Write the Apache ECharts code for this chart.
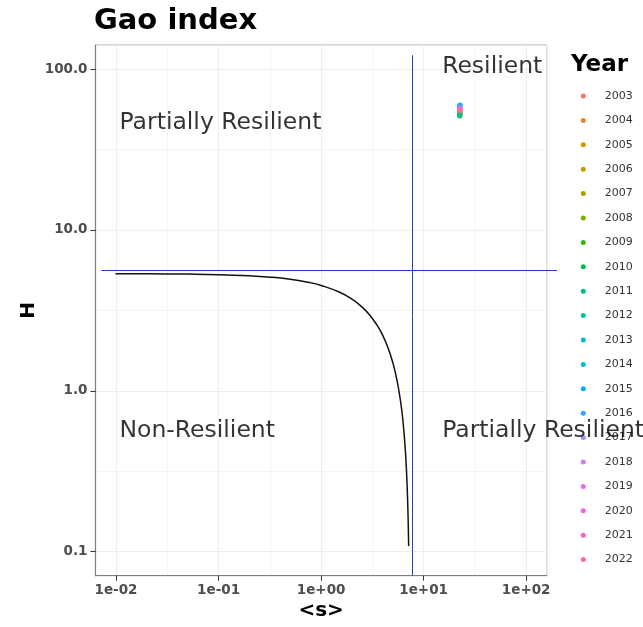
<!DOCTYPE html>
<html>
<head>
<meta charset="utf-8">
<script src="https://cdn.jsdelivr.net/npm/echarts@6/dist/echarts.min.js"></script>
<style>
  html, body { margin: 0; padding: 0; background: #ffffff; }
  #chart { width: 643px; height: 627px; }
</style>
</head>
<body>
<div id="chart"></div>
<script>
// Yearly observations of the Gao resilience index
const years = ['2003','2004','2005','2006','2007','2008','2009','2010','2011','2012',
               '2013','2014','2015','2016','2017','2018','2019','2020','2021','2022'];
const yearColors = ['#F8766D','#EA8331','#D89000','#C09B00','#A3A500','#7CAE00','#39B600','#00BB4E','#00BF7D','#00C1A3',
                    '#00BFC4','#00BAE0','#00B0F6','#35A2FF','#9590FF','#C77CFF','#E76BF3','#FA62DB','#FF62BC','#FF6C91'];
const meanDegree = [22.6, 22.6, 22.6, 22.6, 22.6, 22.5, 22.5, 22.5, 22.5, 22.5,
                    22.4, 22.5, 22.7, 22.7, 22.6, 22.6, 22.6, 22.6, 22.6, 22.6];
const heterogeneity = [55.0, 54.2, 53.5, 53.0, 52.5, 52.0, 51.5, 51.2, 51.8, 53.8,
                       58.5, 59.3, 59.8, 59.0, 57.5, 57.0, 56.5, 56.0, 55.6, 55.3];

// Critical boundary of the resilience function
const boundaryS = [0.01, 0.02, 0.05, 0.1, 0.2, 0.3, 0.5, 0.75, 1.0, 1.5, 2.0, 2.5, 3.0, 3.5,
                   4.0, 4.5, 5.0, 5.5, 6.0, 6.3, 6.6, 6.8, 6.9, 6.95, 7.0, 7.05, 7.1, 7.12, 7.14];
const boundaryH = [5.349, 5.34, 5.314, 5.272, 5.186, 5.102, 4.933, 4.724, 4.518, 4.111, 3.712, 3.322, 2.941, 2.568,
                   2.204, 1.848, 1.500, 1.161, 0.831, 0.637, 0.445, 0.320, 0.257, 0.226, 0.195, 0.164, 0.134, 0.121, 0.109];

// Threshold lines
const thresholdS = 7.8;
const thresholdH = 5.6;
const thresholdSpanS = [0.0072, 200];
const thresholdTopH = 122;

// Axis limits, ticks and tick labels
const xLimits = [0.01, 100];
const yLimits = [0.1, 100];
const xTickValues = [0.01, 0.1, 1, 10, 100];
const xTickLabels = ['1e-02', '1e-01', '1e+00', '1e+01', '1e+02'];
const yTickValues = [0.1, 1, 10, 100];
const yTickLabels = ['0.1', '1.0', '10.0', '100.0'];

// Region annotations
const regionNames = ['Partially Resilient', 'Resilient', 'Non-Resilient', 'Partially Resilient'];
const regionS = [0.01, 14, 0.01, 14];
const regionH = [46, 103, 0.56, 0.56];

const FONT = 'DejaVu Sans';

// 5% expansion of the log range on each side
function expandLog(lim) {
  const a = Math.log10(lim[0]), b = Math.log10(lim[1]);
  const pad = 0.05 * (b - a);
  return [Math.pow(10, a - pad), Math.pow(10, b + pad)];
}
const xRange = expandLog(xLimits);
const yRange = expandLog(yLimits);

function tickLabel(values, labels) {
  return function (v) {
    for (let i = 0; i < values.length; i++) {
      if (Math.abs(Math.log10(v) - Math.log10(values[i])) < 1e-6) return labels[i];
    }
    return '';
  };
}

const chart = echarts.init(document.getElementById('chart'), null, { renderer: 'canvas' });

const series = [];

// Critical curve
series.push({
  type: 'line',
  name: 'boundary',
  data: boundaryS.map((s, i) => [s, boundaryH[i]]),
  showSymbol: false,
  smooth: true,
  lineStyle: { color: '#111111', width: 1.5, cap: 'round', join: 'round' },
  z: 3,
  silent: true
});

// Threshold segments (allowed to run past the panel)
series.push({
  type: 'lines',
  name: 'thresholds',
  coordinateSystem: 'cartesian2d',
  clip: false,
  silent: true,
  data: [
    { coords: [[thresholdSpanS[0], thresholdH], [thresholdSpanS[1], thresholdH]] },
    { coords: [[thresholdS, yRange[0]], [thresholdS, thresholdTopH]] }
  ],
  lineStyle: { color: '#1f3fc0', width: 1, opacity: 1, curveness: 0 },
  z: 3
});

// One point per year
years.forEach((y, i) => {
  series.push({
    type: 'scatter',
    name: y,
    data: [[meanDegree[i], heterogeneity[i]]],
    symbol: 'circle',
    symbolSize: 5,
    itemStyle: { color: yearColors[i], opacity: 1 },
    z: 4
  });
});

// Region labels
series.push({
  type: 'scatter',
  name: 'regions',
  data: regionNames.map((n, i) => ({ name: n, value: [regionS[i], regionH[i]] })),
  symbolSize: 1,
  itemStyle: { color: 'rgba(0,0,0,0)' },
  label: {
    show: true,
    position: 'right',
    distance: 3,
    formatter: p => p.name,
    fontFamily: FONT,
    fontSize: 23.5,
    color: '#000000'
  },
  z: 10,
  silent: true
});

chart.setOption({
  animation: false,
  backgroundColor: '#ffffff',
  title: [
    {
      text: 'Gao index',
      left: 94,
      top: 7,
      padding: 0,
      textStyle: { fontFamily: FONT, fontSize: 29, fontWeight: 'bold', color: '#000000' }
    },
    {
      text: 'Year',
      left: 571,
      top: 54,
      padding: 0,
      textStyle: { fontFamily: FONT, fontSize: 23, fontWeight: 'bold', color: '#000000' }
    }
  ],
  legend: {
    data: years,
    orient: 'vertical',
    left: 580.8,
    top: 89,
    padding: 0,
    icon: 'circle',
    itemWidth: 5,
    itemHeight: 5,
    itemGap: 10.4,
    selectedMode: false,
    textStyle: { fontFamily: FONT, fontSize: 11, lineHeight: 14, color: '#333333', padding: [0, 0, 0, 14] }
  },
  grid: {
    left: 95.5, top: 45, right: 96.3, bottom: 51.3,
    show: true,
    borderColor: '#a6a6a6',
    borderWidth: 1,
    backgroundColor: '#ffffff'
  },
  xAxis: [
    {
      type: 'log',
      logBase: 10,
      min: xRange[0],
      max: xRange[1],
      position: 'bottom',
      name: '<s>',
      nameLocation: 'middle',
      nameGap: 25,
      nameMoveOverlap: false,
      nameTextStyle: { fontFamily: FONT, fontSize: 20, fontWeight: 'bold', color: '#000000' },
      axisLine: { show: true, lineStyle: { color: '#7f7f7f', width: 1.2 } },
      axisTick: { show: true, length: 5, customValues: xTickValues, lineStyle: { color: '#333333', width: 1 } },
      axisLabel: {
        margin: 8,
        customValues: xTickValues,
        fontFamily: FONT,
        fontSize: 13.5,
        fontWeight: 'bold',
        color: '#4d4d4d',
        formatter: tickLabel(xTickValues, xTickLabels)
      },
      splitLine: { show: true, lineStyle: { color: '#ebebeb', width: 1.1 } }
    },
    {
      // half-decade grid
      type: 'log',
      logBase: Math.sqrt(10),
      min: xRange[0],
      max: xRange[1],
      position: 'top',
      axisLine: { show: false },
      axisTick: { show: false },
      axisLabel: { show: false },
      splitLine: { show: true, lineStyle: { color: '#efefef', width: 0.7 } }
    }
  ],
  yAxis: [
    {
      type: 'log',
      logBase: 10,
      min: yRange[0],
      max: yRange[1],
      position: 'left',
      name: 'H',
      nameLocation: 'middle',
      nameRotate: 90,
      nameGap: 57,
      nameMoveOverlap: false,
      nameTextStyle: { fontFamily: FONT, fontSize: 20, fontWeight: 'bold', color: '#000000' },
      axisLine: { show: true, lineStyle: { color: '#7f7f7f', width: 1.2 } },
      axisTick: { show: true, length: 5, customValues: yTickValues, lineStyle: { color: '#333333', width: 1 } },
      axisLabel: {
        margin: 8,
        customValues: yTickValues,
        fontFamily: FONT,
        fontSize: 13.5,
        fontWeight: 'bold',
        color: '#4d4d4d',
        formatter: tickLabel(yTickValues, yTickLabels)
      },
      splitLine: { show: true, lineStyle: { color: '#ebebeb', width: 1.1 } }
    },
    {
      // half-decade grid
      type: 'log',
      logBase: Math.sqrt(10),
      min: yRange[0],
      max: yRange[1],
      position: 'right',
      axisLine: { show: false },
      axisTick: { show: false },
      axisLabel: { show: false },
      splitLine: { show: true, lineStyle: { color: '#efefef', width: 0.7 } }
    }
  ],
  series: series
});
</script>
</body>
</html>
